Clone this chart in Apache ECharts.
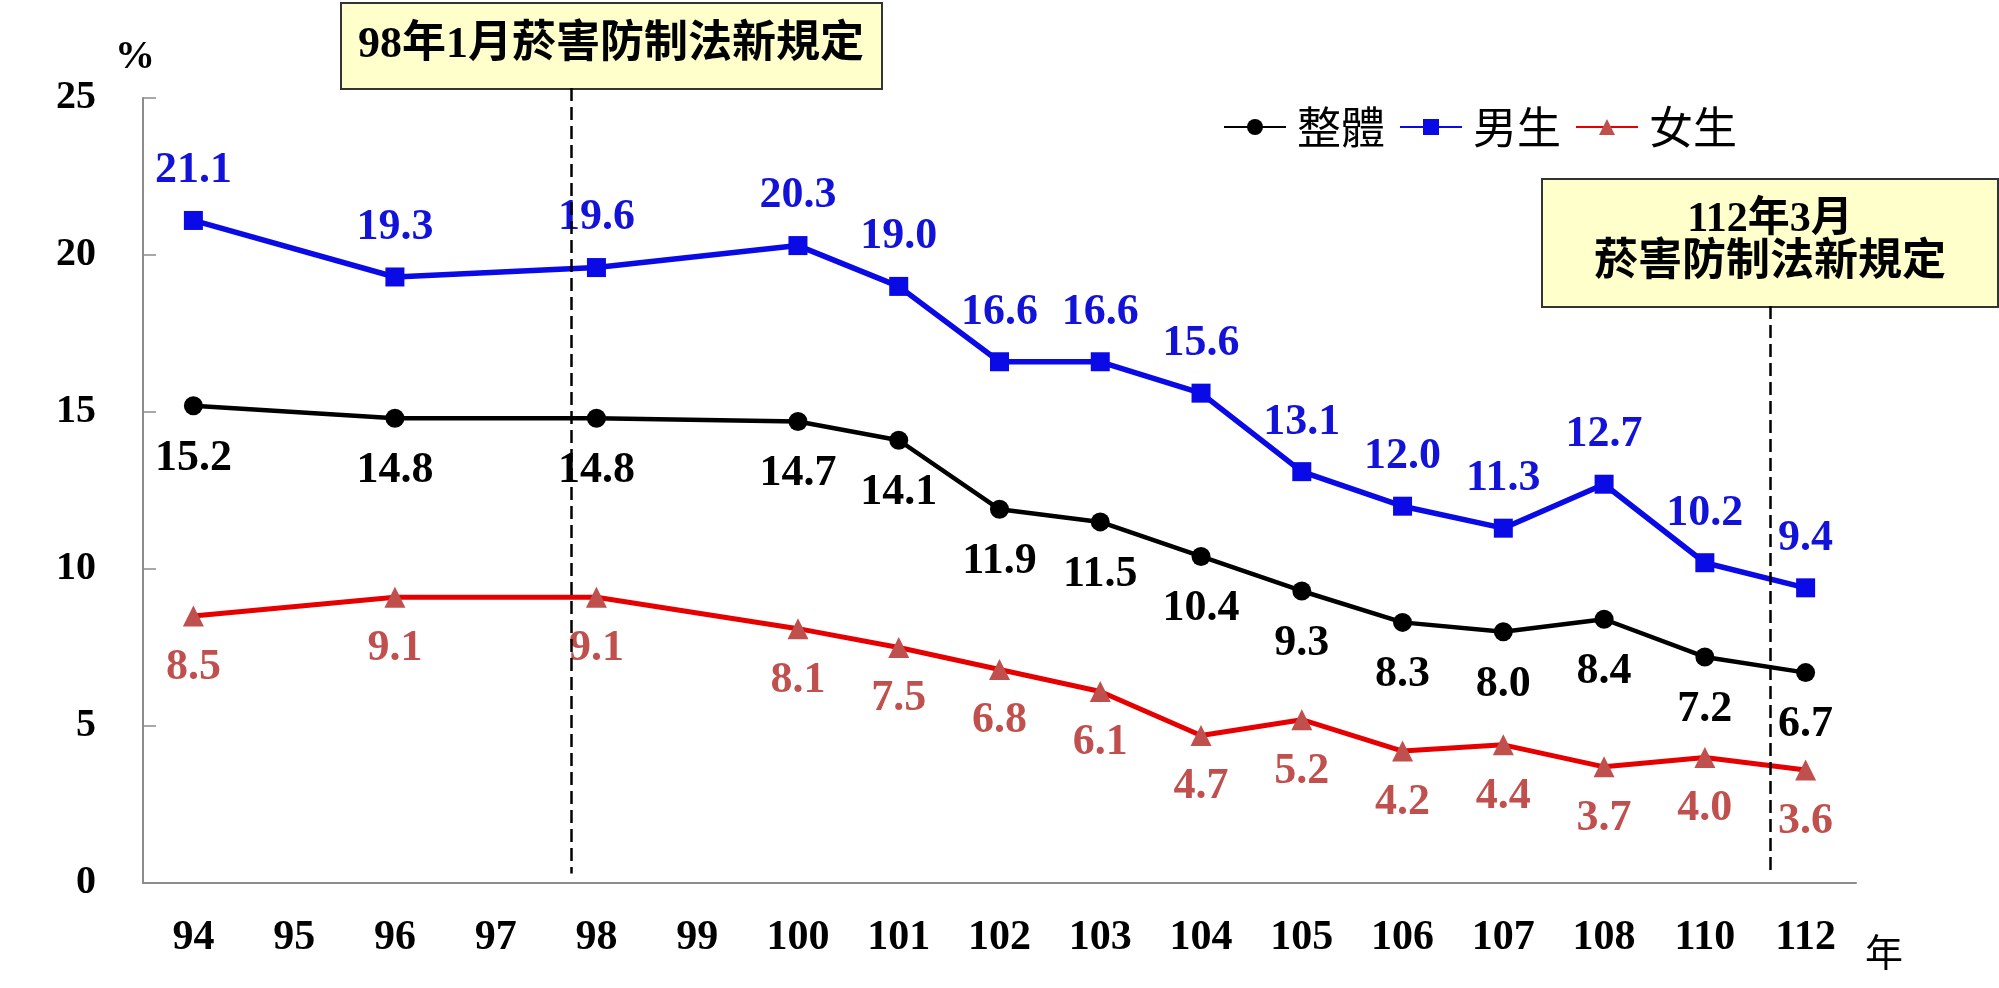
<!DOCTYPE html>
<html>
<head>
<meta charset="utf-8">
<script src="https://cdn.jsdelivr.net/npm/echarts@6/dist/echarts.min.js"></script>
<style>
  html, body { margin: 0; padding: 0; background: #fff; }
  #chart { width: 1999px; height: 988px; }
</style>
</head>
<body>
<div id="chart"></div>
<script>
(function () {
  const years = ['94', '95', '96', '97', '98', '99', '100', '101', '102', '103', '104', '105', '106', '107', '108', '110', '112'];
  const overall = [15.2, null, 14.8, null, 14.8, null, 14.7, 14.1, 11.9, 11.5, 10.4, 9.3, 8.3, 8.0, 8.4, 7.2, 6.7];
  const male = [21.1, null, 19.3, null, 19.6, null, 20.3, 19.0, 16.6, 16.6, 15.6, 13.1, 12.0, 11.3, 12.7, 10.2, 9.4];
  const female = [8.5, null, 9.1, null, 9.1, null, 8.1, 7.5, 6.8, 6.1, 4.7, 5.2, 4.2, 4.4, 3.7, 4.0, 3.6];
  const yTicks = [0, 25, 5];
  // policy lines drawn in an overlay grid that reaches up to the first note box
  const policyMax = 25.31;
  const policyLines = [[3.75, 25.31], [15.65, 18.37]];

  const SERIF = "'Liberation Serif', 'Times New Roman', 'Noto Sans CJK TC', serif";
  const CJK = "'Noto Sans CJK TC', 'Liberation Serif', serif";

  const fmt = (p) => Number(p.value).toFixed(1);

  function lineSeries(name, data, opt) {
    return {
      name: name,
      type: 'line',
      data: data,
      connectNulls: true,
      symbol: opt.symbol,
      symbolSize: opt.size,
      lineStyle: { color: opt.line, width: opt.width },
      itemStyle: { color: opt.mark },
      label: {
        show: true,
        position: opt.pos,
        distance: opt.dist,
        formatter: fmt,
        color: opt.text,
        fontFamily: SERIF,
        fontWeight: 'bold',
        fontSize: 44
      },
      z: opt.z
    };
  }

  const chart = echarts.init(document.getElementById('chart'), null, { renderer: 'canvas' });

  chart.setOption({
    animation: false,
    backgroundColor: '#fff',
    grid: [
      { left: 143, right: 143, top: 98, bottom: 105 },
      { left: 143, right: 143, top: 88, bottom: 105 }
    ],
    legend: {
      left: 1218,
      top: 100,
      itemWidth: 62,
      itemHeight: 20,
      itemGap: 14,
      data: ['整體', '男生', '女生'],
      textStyle: { fontFamily: CJK, fontSize: 44, color: '#000', padding: [0, 0, 0, 6] }
    },
    xAxis: [{
      type: 'category',
      gridIndex: 0,
      data: years,
      boundaryGap: true,
      name: '年',
      nameLocation: 'end',
      nameGap: 9,
      nameTextStyle: { fontFamily: CJK, fontSize: 38, color: '#000', verticalAlign: 'top', padding: [50, 0, 0, 0] },
      axisLine: { lineStyle: { color: '#8c8c8c', width: 2 } },
      axisTick: { inside: true, length: 13, lineStyle: { color: '#8c8c8c', width: 1.5 } },
      axisLabel: { interval: 0, margin: 34, color: '#000', fontFamily: SERIF, fontWeight: 'bold', fontSize: 42 },
      splitLine: { show: false }
    }, {
      type: 'value',
      gridIndex: 1,
      min: -0.5,
      max: 16.5,
      show: false
    }],
    yAxis: [{
      type: 'value',
      gridIndex: 0,
      min: yTicks[0],
      max: yTicks[1],
      interval: yTicks[2],
      name: '%',
      nameLocation: 'end',
      nameGap: 20,
      nameTextStyle: { fontFamily: SERIF, fontWeight: 'bold', fontSize: 40, color: '#000', align: 'center', padding: [0, 16, 0, 0] },
      axisLine: { show: true, onZero: false, lineStyle: { color: '#8c8c8c', width: 2 } },
      axisTick: { show: true, inside: true, length: 13, lineStyle: { color: '#8c8c8c', width: 1.5 } },
      axisLabel: { margin: 47, color: '#000', fontFamily: SERIF, fontWeight: 'bold', fontSize: 40 },
      splitLine: { show: false }
    }, {
      type: 'value',
      gridIndex: 1,
      min: 0,
      max: policyMax,
      show: false
    }],
    series: [
      lineSeries('整體', overall, { symbol: 'circle', size: 19, line: '#000', mark: '#000', width: 4.5, pos: 'bottom', dist: 21, text: '#000', z: 3 }),
      lineSeries('男生', male, { symbol: 'rect', size: 19, line: '#0a0ae6', mark: '#0a0ae6', width: 5.5, pos: 'top', dist: 18, text: '#1212d8', z: 4 }),
      lineSeries('女生', female, { symbol: 'triangle', size: 21, line: '#e60000', mark: '#c0504d', width: 5, pos: 'bottom', dist: 19, text: '#c0504d', z: 2 }),
      {
        name: 'policy',
        type: 'line',
        xAxisIndex: 1,
        yAxisIndex: 1,
        data: [],
        silent: true,
        markLine: {
          silent: true,
          symbol: ['none', 'none'],
          label: { show: false },
          lineStyle: { color: '#000', width: 2.5, type: [13, 6] },
          data: policyLines.map(([x, top]) => [{ coord: [x, top] }, { coord: [x, 0.3] }])
        }
      }
    ],
    graphic: [
      {
        type: 'group',
        left: 340,
        top: 2,
        children: [
          { type: 'rect', shape: { x: 0, y: 0, width: 541, height: 86 }, style: { fill: '#ffffcc', stroke: '#333', lineWidth: 2 } },
          { type: 'text', x: 270, y: 43, style: { text: '98年1月菸害防制法新規定', font: "bold 44px " + SERIF, fill: '#000', align: 'center', verticalAlign: 'middle' } }
        ]
      },
      {
        type: 'group',
        left: 1541,
        top: 178,
        children: [
          { type: 'rect', shape: { x: 0, y: 0, width: 456, height: 128 }, style: { fill: '#ffffcc', stroke: '#333', lineWidth: 2 } },
          { type: 'text', x: 228, y: 41, style: { text: '112年3月', font: "bold 42px " + SERIF, fill: '#000', align: 'center', verticalAlign: 'middle' } },
          { type: 'text', x: 228, y: 85, style: { text: '菸害防制法新規定', font: "bold 44px " + SERIF, fill: '#000', align: 'center', verticalAlign: 'middle' } }
        ]
      }
    ]
  });
})();
</script>
</body>
</html>
